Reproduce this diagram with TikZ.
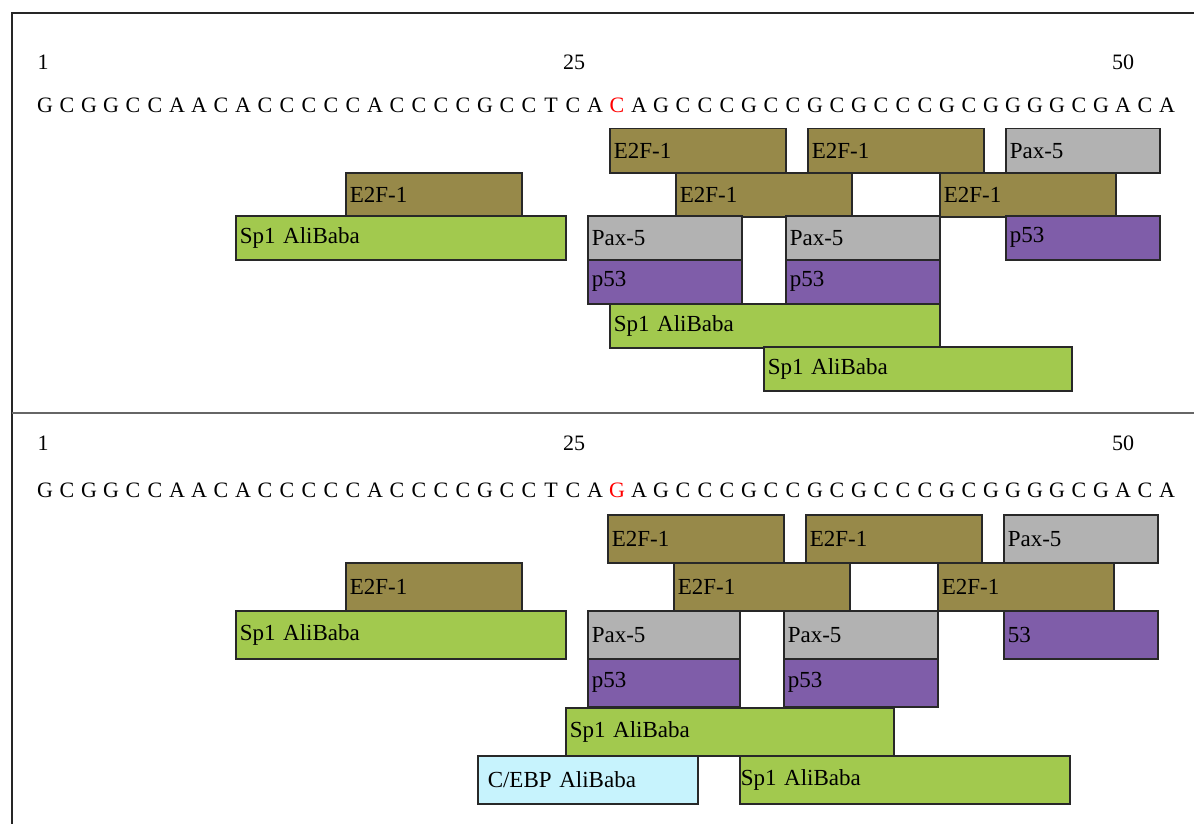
\documentclass[tikz,border=0pt]{standalone}
\usepackage{fontspec}
\setmainfont{Liberation Serif}
\definecolor{efcol}{RGB}{151,137,73}
\definecolor{spcol}{RGB}{162,201,78}
\definecolor{paxcol}{RGB}{178,178,178}
\definecolor{pfcol}{RGB}{127,93,169}
\definecolor{cebcol}{RGB}{199,243,253}
\definecolor{edgecol}{RGB}{40,40,40}
\tikzset{
  nt/.style={anchor=base, inner sep=0pt, font=\fontsize{22}{24}\selectfont},
  numlbl/.style={anchor=base, inner sep=0pt, font=\fontsize{22}{24}\selectfont},
  tf/.style={draw=edgecol, line width=1.5pt, anchor=north west, inner xsep=4pt,
    inner ysep=0pt, align=left, font=\fontsize{23}{25}\selectfont},
  bw/.style={text width=#1pt-8pt},
  efbox/.style={tf, fill=efcol},
  spbox/.style={tf, fill=spcol},
  paxbox/.style={tf, fill=paxcol},
  pfbox/.style={tf, fill=pfcol},
  cebbox/.style={tf, fill=cebcol}
}
\begin{document}
\begin{tikzpicture}[x=1pt, y=-1pt]
  \useasboundingbox (0,0) rectangle (1194,824);
  % frame and separator
  \draw[line width=2.8pt, black!85] (1194,13) -- (12,13) -- (12,824);
  \draw[line width=1.5pt, black!60] (12,413) -- (1194,413);

  % upper sequence
  \draw
    (43,70) node[numlbl] (n1){1}
    (574,70) node[numlbl] (n25){25}
    (1123,70) node[numlbl] (n50){50};
  \foreach \b [count=\i] in {G,C,G,G,C,C,A,A,C,A,C,C,C,C,C,A,C,C,C,C,G,C,C,T,C,A,
      {\textcolor{red}{C}},A,G,C,C,C,G,C,C,G,C,G,C,C,C,G,C,G,G,G,G,C,G,A,C,A}
    \node[nt] (t\i) at ({23+22*\i},113) {\b};

  \begin{scope}[every node/.append style={minimum height=44pt}]
    \node[efbox, bw=176] (ta1) at (609,128) {E2F-1};
    \node[efbox, bw=176] (ta2) at (807,128) {E2F-1};
    \node[paxbox, bw=154] (ta3) at (1005,128) {Pax-5};
    \node[efbox, bw=176] (tb1) at (345,172) {E2F-1};
    \node[efbox, bw=176] (tb2) at (675,172) {E2F-1};
    \node[efbox, bw=176] (tb3) at (939,172) {E2F-1};
    \node[spbox, bw=330] (tc1) at (235,215) {Sp1 AliBaba};
    \node[paxbox, bw=154] (tc2) at (587,215) {Pax-5};
    \node[paxbox, bw=154] (tc3) at (785,215) {Pax-5};
    \node[pfbox, bw=154] (tc4) at (1005,215) {p53};
    \node[pfbox, bw=154] (td1) at (587,259) {p53};
    \node[pfbox, bw=154] (td2) at (785,259) {p53};
    \node[spbox, bw=330] (te1) at (609,303) {Sp1 AliBaba};
    \node[spbox, bw=308] (tf1) at (763,346) {Sp1 AliBaba};
  \end{scope}

  % lower sequence
  \draw
    (43,450) node[numlbl] (m1){1}
    (574,450) node[numlbl] (m25){25}
    (1123,450) node[numlbl] (m50){50};
  \foreach \b [count=\i] in {G,C,G,G,C,C,A,A,C,A,C,C,C,C,C,A,C,C,C,C,G,C,C,T,C,A,
      {\textcolor{red}{G}},A,G,C,C,C,G,C,C,G,C,G,C,C,C,G,C,G,G,G,G,C,G,A,C,A}
    \node[nt] (b\i) at ({23+22*\i},497) {\b};

  \begin{scope}[every node/.append style={minimum height=48pt}]
    \node[efbox, bw=176] (ba1) at (607,514) {E2F-1};
    \node[efbox, bw=176] (ba2) at (805,514) {E2F-1};
    \node[paxbox, bw=154] (ba3) at (1003,514) {Pax-5};
    \node[efbox, bw=176] (bb1) at (345,562) {E2F-1};
    \node[efbox, bw=176] (bb2) at (673,562) {E2F-1};
    \node[efbox, bw=176] (bb3) at (937,562) {E2F-1};
    \node[spbox, bw=330] (bc1) at (235,610) {Sp1 AliBaba};
    \node[paxbox, bw=152] (bc2) at (587,610) {Pax-5};
    \node[paxbox, bw=154] (bc3) at (783,610) {Pax-5};
    \node[pfbox, bw=154] (bc4) at (1003,610) {53};
    \node[pfbox, bw=152] (bd1) at (587,658) {p53};
    \node[pfbox, bw=154] (bd2) at (783,658) {p53};
    \node[spbox, bw=328] (be1) at (565,707) {Sp1 AliBaba};
    \node[cebbox, bw=220, inner xsep=10pt, text width=200pt] (bf1) at (477,755) {C/EBP AliBaba};
    \node[spbox, bw=330, inner xsep=1pt, text width=328pt] (bf2) at (739,755) {Sp1 AliBaba};
  \end{scope}
\end{tikzpicture}
\end{document}
